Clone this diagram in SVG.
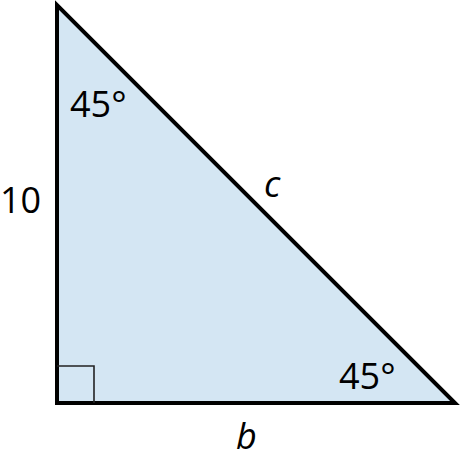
<svg xmlns="http://www.w3.org/2000/svg" width="460" height="463" viewBox="0 0 460 463">
<style>
.t{font-family:"Open Sans","Noto Sans","DejaVu Sans",sans-serif;font-size:36px;fill:#000}
.i{font-style:italic}
</style>
<rect width="460" height="463" fill="#fff"/>
<g id="triangle">
<polygon points="57,5 57,403 455,403" fill="#d4e6f3" stroke="#000" stroke-width="4" stroke-linejoin="miter"/>
<polyline points="57,366 94,366 94,403" fill="none" stroke="#222" stroke-width="1.6"/>
</g>
<g id="labels">
<text class="t" x="70" y="117">45°</text>
<text class="t" x="339" y="389">45°</text>
<text class="t" x="0" y="213">10</text>
<text class="t i" x="264" y="197">c</text>
<text class="t i" x="236" y="449">b</text>
</g>
</svg>
